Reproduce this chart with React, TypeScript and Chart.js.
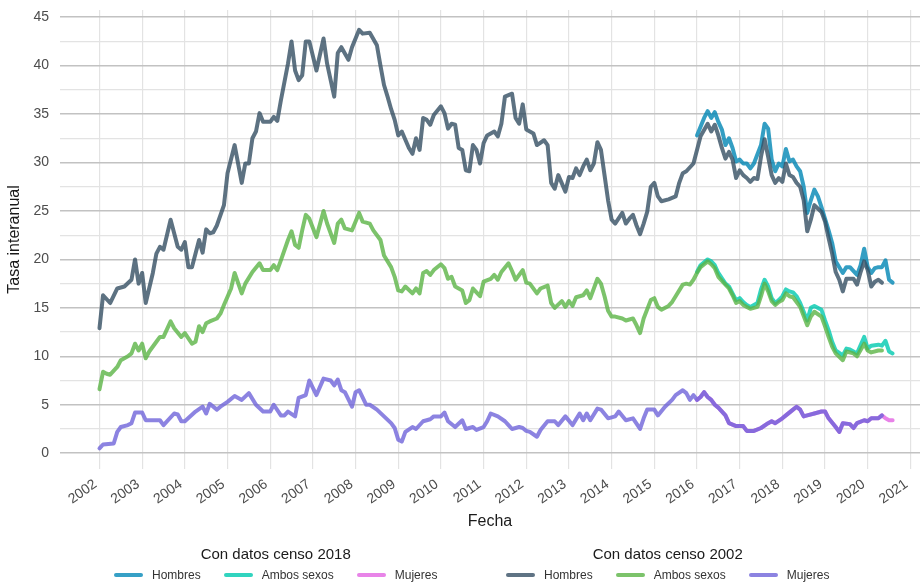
import React, { useEffect, useRef } from "react";
import { Chart, registerables } from "chart.js";

Chart.register(...registerables);

type Punto = [string, number];

// Eje X: años (etiquetas)
const anios = [2002, 2003, 2004, 2005, 2006, 2007, 2008, 2009, 2010, 2011, 2012, 2013, 2014, 2015, 2016, 2017, 2018, 2019, 2020, 2021];
// Eje Y: marcas con etiqueta y líneas menores
const yEtiquetas = [0, 5, 10, 15, 20, 25, 30, 35, 40, 45];
const yMenores = [2.5, 7.5, 12.5, 17.5, 22.5, 27.5, 32.5, 37.5, 42.5];

// ---- Con datos censo 2002 ----
const hombres2002: Punto[] = [
  ["2002-01", 12.9], ["2002-02", 16.3], ["2002-04", 15.5], ["2002-06", 17.0], ["2002-08", 17.2], ["2002-10", 17.9], ["2002-11", 20.0], ["2002-12", 17.5],
  ["2003-01", 18.6], ["2003-02", 15.5], ["2003-04", 18.6], ["2003-05", 20.6], ["2003-06", 21.3], ["2003-07", 21.0], ["2003-09", 24.1], ["2003-11", 21.3], ["2003-12", 21.0],
  ["2004-01", 21.8], ["2004-02", 19.2], ["2004-03", 19.2], ["2004-05", 22.0], ["2004-06", 20.7], ["2004-07", 23.1], ["2004-08", 22.7], ["2004-09", 22.8], ["2004-10", 23.5], ["2004-12", 25.6],
  ["2005-01", 28.9], ["2005-03", 31.8], ["2005-05", 27.9], ["2005-06", 29.9], ["2005-07", 29.9], ["2005-08", 32.5], ["2005-09", 33.2], ["2005-10", 35.1], ["2005-11", 34.2],
  ["2006-01", 34.2], ["2006-02", 34.7], ["2006-03", 34.3], ["2006-04", 36.4], ["2006-06", 40.2], ["2006-07", 42.5], ["2006-08", 39.5], ["2006-09", 38.5], ["2006-10", 39.0], ["2006-11", 42.5], ["2006-12", 42.5],
  ["2007-02", 39.5], ["2007-04", 42.8], ["2007-05", 40.2], ["2007-07", 36.8], ["2007-08", 41.3], ["2007-09", 41.9], ["2007-11", 40.6], ["2007-12", 41.9],
  ["2008-02", 43.7], ["2008-03", 43.3], ["2008-05", 43.4], ["2008-07", 42.1], ["2008-08", 40.0], ["2008-09", 38.0], ["2008-10", 36.8], ["2008-11", 35.5], ["2008-12", 34.4],
  ["2009-01", 32.8], ["2009-02", 33.2], ["2009-04", 31.5], ["2009-05", 30.9], ["2009-06", 32.5], ["2009-07", 31.3], ["2009-08", 34.6], ["2009-09", 34.4], ["2009-10", 33.9], ["2009-11", 34.9],
  ["2010-01", 35.8], ["2010-02", 35.1], ["2010-03", 33.5], ["2010-04", 34.0], ["2010-05", 33.9], ["2010-06", 31.5], ["2010-07", 31.3], ["2010-08", 29.2], ["2010-09", 29.1], ["2010-10", 31.8], ["2010-11", 31.3], ["2010-12", 29.9],
  ["2011-01", 32.0], ["2011-02", 32.8], ["2011-04", 33.2], ["2011-05", 32.7], ["2011-06", 34.0], ["2011-07", 36.8], ["2011-09", 37.1], ["2011-10", 34.6], ["2011-11", 34.0], ["2011-12", 36.0],
  ["2012-01", 33.4], ["2012-02", 33.2], ["2012-03", 33.0], ["2012-04", 31.8], ["2012-06", 32.3], ["2012-07", 31.8], ["2012-08", 27.9], ["2012-09", 27.3], ["2012-10", 28.7], ["2012-12", 27.0],
  ["2013-01", 28.5], ["2013-02", 28.4], ["2013-03", 29.4], ["2013-04", 28.7], ["2013-05", 29.6], ["2013-06", 30.3], ["2013-07", 29.2], ["2013-08", 29.9], ["2013-09", 32.1], ["2013-10", 31.3], ["2013-11", 28.7], ["2013-12", 26.1],
  ["2014-01", 24.1], ["2014-02", 23.7], ["2014-04", 24.8], ["2014-05", 23.7], ["2014-06", 24.2], ["2014-07", 24.6], ["2014-08", 23.5], ["2014-09", 22.6], ["2014-10", 23.7], ["2014-11", 24.9], ["2014-12", 27.5],
  ["2015-01", 27.9], ["2015-02", 26.5], ["2015-03", 26.0], ["2015-05", 26.2], ["2015-07", 26.5], ["2015-08", 27.9], ["2015-09", 28.9], ["2015-10", 29.1], ["2015-12", 29.9],
  ["2016-01", 31.3], ["2016-02", 32.7], ["2016-04", 34.0], ["2016-05", 33.2], ["2016-06", 33.9], ["2016-07", 32.8], ["2016-08", 31.5], ["2016-09", 30.4], ["2016-10", 31.1], ["2016-11", 30.3], ["2016-12", 28.4],
  ["2017-01", 29.2], ["2017-02", 28.7], ["2017-03", 28.4], ["2017-04", 28.0], ["2017-05", 28.4], ["2017-06", 28.3], ["2017-07", 30.6], ["2017-08", 32.4], ["2017-09", 30.6], ["2017-10", 28.7], ["2017-11", 27.9], ["2017-12", 28.4],
  ["2018-01", 28.0], ["2018-02", 29.9], ["2018-03", 28.7], ["2018-04", 28.5], ["2018-05", 27.9], ["2018-06", 27.5], ["2018-07", 26.1], ["2018-08", 22.9], ["2018-09", 24.1], ["2018-10", 25.6], ["2018-12", 24.9],
  ["2019-01", 23.9], ["2019-02", 22.2], ["2019-03", 20.6], ["2019-04", 18.7], ["2019-05", 17.9], ["2019-06", 16.7], ["2019-07", 18.0], ["2019-09", 18.0], ["2019-10", 17.4], ["2019-11", 18.7], ["2019-12", 19.8],
  ["2020-01", 18.9], ["2020-02", 17.2], ["2020-03", 17.7], ["2020-04", 17.9], ["2020-05", 17.6],
];

const ambos2002: Punto[] = [
  ["2002-01", 6.6], ["2002-02", 8.4], ["2002-03", 8.2], ["2002-04", 8.1], ["2002-06", 8.9], ["2002-07", 9.6], ["2002-09", 10.0], ["2002-10", 10.3], ["2002-11", 11.3], ["2002-12", 10.6],
  ["2003-01", 11.3], ["2003-02", 9.8], ["2003-03", 10.5], ["2003-05", 11.5], ["2003-06", 12.0], ["2003-07", 12.0], ["2003-09", 13.6], ["2003-10", 12.9], ["2003-12", 12.0],
  ["2004-01", 12.4], ["2004-03", 11.3], ["2004-04", 11.5], ["2004-05", 13.1], ["2004-06", 12.5], ["2004-07", 13.4], ["2004-08", 13.6], ["2004-10", 13.9], ["2004-11", 14.4], ["2004-12", 15.3],
  ["2005-02", 17.0], ["2005-03", 18.6], ["2005-05", 16.5], ["2005-06", 17.5], ["2005-08", 18.7], ["2005-10", 19.6], ["2005-11", 18.9],
  ["2006-01", 18.9], ["2006-02", 19.4], ["2006-03", 18.9], ["2006-04", 19.9], ["2006-06", 22.0], ["2006-07", 22.9], ["2006-08", 21.5], ["2006-09", 21.2], ["2006-10", 23.0], ["2006-11", 24.6], ["2006-12", 24.2],
  ["2007-02", 22.3], ["2007-04", 25.0], ["2007-05", 23.7], ["2007-07", 21.7], ["2007-08", 23.7], ["2007-09", 24.1], ["2007-10", 23.2], ["2007-12", 23.0],
  ["2008-02", 24.8], ["2008-03", 23.9], ["2008-05", 23.7], ["2008-06", 23.0], ["2008-08", 22.0], ["2008-09", 20.4], ["2008-11", 19.2], ["2008-12", 18.2],
  ["2009-01", 16.8], ["2009-02", 16.7], ["2009-03", 17.2], ["2009-05", 16.5], ["2009-06", 17.0], ["2009-07", 16.5], ["2009-08", 18.6], ["2009-09", 18.8], ["2009-10", 18.4], ["2009-11", 18.9],
  ["2010-01", 19.5], ["2010-02", 19.1], ["2010-03", 18.0], ["2010-04", 18.2], ["2010-05", 17.2], ["2010-07", 16.8], ["2010-08", 15.5], ["2010-09", 15.8], ["2010-10", 17.0], ["2010-11", 16.6], ["2010-12", 16.2],
  ["2011-01", 17.7], ["2011-03", 18.0], ["2011-04", 18.4], ["2011-05", 17.9], ["2011-06", 18.7], ["2011-08", 19.6], ["2011-09", 18.8], ["2011-10", 17.9], ["2011-12", 18.9],
  ["2012-01", 17.6], ["2012-02", 17.5], ["2012-04", 16.5], ["2012-05", 17.0], ["2012-07", 17.3], ["2012-08", 15.5], ["2012-09", 15.0], ["2012-11", 15.7], ["2012-12", 15.1],
  ["2013-01", 15.7], ["2013-02", 15.2], ["2013-03", 16.1], ["2013-05", 16.3], ["2013-06", 16.8], ["2013-07", 16.0], ["2013-09", 18.0], ["2013-10", 17.5], ["2013-11", 16.2], ["2013-12", 14.7],
  ["2014-01", 14.1], ["2014-02", 14.1], ["2014-04", 13.9], ["2014-05", 13.7], ["2014-07", 13.9], ["2014-08", 13.2], ["2014-09", 12.4], ["2014-10", 13.9], ["2014-12", 15.8],
  ["2015-01", 16.0], ["2015-02", 15.1], ["2015-03", 14.8], ["2015-05", 15.2], ["2015-06", 15.6], ["2015-07", 16.2], ["2015-09", 17.4], ["2015-10", 17.5], ["2015-11", 17.4], ["2015-12", 17.9],
  ["2016-01", 18.6], ["2016-02", 19.2], ["2016-04", 19.8], ["2016-05", 19.5], ["2016-06", 19.1], ["2016-07", 18.2], ["2016-09", 17.4], ["2016-10", 17.0], ["2016-11", 16.3], ["2016-12", 15.5],
  ["2017-01", 15.7], ["2017-02", 15.3], ["2017-03", 15.1], ["2017-04", 14.9], ["2017-06", 15.1], ["2017-07", 16.2], ["2017-08", 17.5], ["2017-09", 16.7], ["2017-10", 15.7], ["2017-11", 15.3], ["2017-12", 15.6],
  ["2018-01", 15.8], ["2018-02", 16.5], ["2018-03", 16.2], ["2018-04", 16.1], ["2018-05", 15.6], ["2018-06", 15.1], ["2018-08", 13.2], ["2018-09", 14.1], ["2018-10", 14.6], ["2018-12", 14.1],
  ["2019-01", 13.1], ["2019-02", 12.0], ["2019-03", 11.0], ["2019-04", 10.3], ["2019-06", 9.6], ["2019-07", 10.5], ["2019-09", 10.3], ["2019-10", 10.0], ["2019-12", 11.3],
  ["2020-01", 10.6], ["2020-02", 10.4], ["2020-04", 10.6], ["2020-05", 10.6],
];

const mujeres2002: Punto[] = [
  ["2002-01", 0.5], ["2002-02", 0.9], ["2002-05", 1.0], ["2002-06", 2.2], ["2002-07", 2.7], ["2002-09", 2.9], ["2002-10", 3.1], ["2002-11", 4.2],
  ["2003-01", 4.2], ["2003-02", 3.4], ["2003-06", 3.4], ["2003-07", 2.9], ["2003-10", 4.1], ["2003-11", 4.0], ["2003-12", 3.3],
  ["2004-01", 3.3], ["2004-04", 4.3], ["2004-06", 4.8], ["2004-07", 4.1], ["2004-08", 5.1], ["2004-10", 4.5], ["2004-11", 4.8],
  ["2005-01", 5.3], ["2005-03", 5.9], ["2005-05", 5.5], ["2005-07", 6.2], ["2005-09", 5.0], ["2005-11", 4.3],
  ["2006-01", 4.3], ["2006-02", 5.0], ["2006-04", 3.9], ["2006-05", 3.9], ["2006-06", 4.3], ["2006-08", 3.8], ["2006-09", 5.7], ["2006-11", 6.0], ["2006-12", 7.5],
  ["2007-02", 6.0], ["2007-04", 7.7], ["2007-06", 7.5], ["2007-07", 7.0], ["2007-08", 7.6], ["2007-09", 6.5], ["2007-10", 6.3], ["2007-12", 4.8],
  ["2008-01", 6.3], ["2008-02", 6.5], ["2008-04", 5.0], ["2008-05", 5.0], ["2008-07", 4.5], ["2008-09", 3.8], ["2008-11", 3.1], ["2008-12", 2.6],
  ["2009-01", 1.4], ["2009-02", 1.2], ["2009-03", 2.2], ["2009-05", 2.7], ["2009-06", 2.5], ["2009-08", 3.3], ["2009-10", 3.5], ["2009-11", 3.8],
  ["2010-01", 3.8], ["2010-02", 4.2], ["2010-03", 3.3], ["2010-05", 2.7], ["2010-07", 3.4], ["2010-08", 2.5], ["2010-10", 2.7], ["2010-11", 2.4],
  ["2011-01", 2.7], ["2011-02", 3.3], ["2011-03", 4.1], ["2011-05", 3.8], ["2011-07", 3.3], ["2011-08", 2.9], ["2011-09", 2.5], ["2011-11", 2.7], ["2011-12", 2.6],
  ["2012-01", 2.3], ["2012-02", 2.2], ["2012-04", 1.7], ["2012-05", 2.4], ["2012-07", 3.3], ["2012-09", 3.3], ["2012-10", 2.9], ["2012-12", 3.8],
  ["2013-02", 2.9], ["2013-04", 4.1], ["2013-05", 3.4], ["2013-06", 4.1], ["2013-07", 3.4], ["2013-09", 4.6], ["2013-10", 4.5], ["2013-12", 3.6],
  ["2014-02", 3.8], ["2014-03", 4.3], ["2014-05", 3.4], ["2014-07", 3.6], ["2014-09", 2.5], ["2014-10", 3.6], ["2014-11", 4.5],
  ["2015-01", 4.5], ["2015-02", 3.9], ["2015-04", 4.8], ["2015-06", 5.5], ["2015-07", 6.0], ["2015-09", 6.5], ["2015-10", 6.2], ["2015-11", 5.5], ["2015-12", 6.0],
  ["2016-01", 5.5], ["2016-02", 5.8], ["2016-03", 6.3], ["2016-04", 5.8], ["2016-05", 5.5], ["2016-06", 5.0], ["2016-07", 4.7], ["2016-09", 3.9], ["2016-10", 3.1], ["2016-12", 2.8],
  ["2017-02", 2.8], ["2017-03", 2.3], ["2017-05", 2.3], ["2017-07", 2.6], ["2017-09", 3.1], ["2017-10", 3.3], ["2017-11", 3.1],
  ["2018-01", 3.6], ["2018-02", 3.9], ["2018-04", 4.5], ["2018-05", 4.8], ["2018-06", 4.5], ["2018-07", 3.8], ["2018-08", 3.9], ["2018-10", 4.1], ["2018-12", 4.3],
  ["2019-01", 4.3], ["2019-02", 3.6], ["2019-04", 2.7], ["2019-05", 2.2], ["2019-06", 3.1], ["2019-08", 3.0], ["2019-09", 2.6], ["2019-10", 3.1], ["2019-12", 3.4],
  ["2020-01", 3.3], ["2020-02", 3.6], ["2020-04", 3.6], ["2020-05", 3.9],
];

// ---- Con datos censo 2018 ----
const hombres2018: Punto[] = [
  ["2016-01", 32.8], ["2016-02", 33.7], ["2016-03", 34.6], ["2016-04", 35.3], ["2016-05", 34.6], ["2016-06", 35.2], ["2016-07", 34.2], ["2016-08", 33.4], ["2016-09", 31.8], ["2016-10", 32.5], ["2016-11", 31.5], ["2016-12", 30.1],
  ["2017-01", 30.3], ["2017-02", 29.9], ["2017-03", 29.9], ["2017-04", 29.4], ["2017-05", 29.9], ["2017-07", 31.8], ["2017-08", 34.0], ["2017-09", 33.5], ["2017-10", 30.3], ["2017-11", 29.1], ["2017-12", 29.9],
  ["2018-01", 29.6], ["2018-02", 31.4], ["2018-03", 30.1], ["2018-04", 30.3], ["2018-05", 29.6], ["2018-06", 29.1], ["2018-07", 27.5], ["2018-08", 24.8], ["2018-09", 26.1], ["2018-10", 27.2], ["2018-11", 26.5], ["2018-12", 25.4],
  ["2019-01", 24.2], ["2019-02", 23.0], ["2019-03", 21.7], ["2019-04", 19.8], ["2019-06", 18.6], ["2019-07", 19.2], ["2019-08", 19.2], ["2019-10", 18.4], ["2019-11", 19.4], ["2019-12", 21.1],
  ["2020-01", 19.2], ["2020-02", 18.6], ["2020-03", 19.1], ["2020-04", 19.2], ["2020-05", 19.2], ["2020-06", 19.9], ["2020-07", 17.9], ["2020-08", 17.6],
];

const ambos2018: Punto[] = [
  ["2016-01", 18.7], ["2016-02", 19.4], ["2016-04", 20.0], ["2016-05", 19.8], ["2016-06", 19.4], ["2016-07", 18.6], ["2016-09", 17.5], ["2016-10", 17.2], ["2016-11", 16.5], ["2016-12", 15.8],
  ["2017-01", 16.0], ["2017-02", 15.6], ["2017-03", 15.3], ["2017-04", 15.1], ["2017-06", 15.5], ["2017-07", 16.9], ["2017-08", 17.9], ["2017-09", 17.2], ["2017-10", 16.0], ["2017-11", 15.5], ["2017-12", 15.8],
  ["2018-01", 16.2], ["2018-02", 16.9], ["2018-03", 16.7], ["2018-04", 16.6], ["2018-05", 16.2], ["2018-06", 15.5], ["2018-08", 13.7], ["2018-09", 15.0], ["2018-10", 15.2], ["2018-12", 14.8],
  ["2019-01", 13.7], ["2019-02", 12.7], ["2019-03", 11.5], ["2019-04", 10.6], ["2019-06", 10.1], ["2019-07", 10.8], ["2019-08", 10.7], ["2019-10", 10.3], ["2019-12", 12.0],
  ["2020-01", 10.8], ["2020-02", 11.1], ["2020-04", 11.2], ["2020-05", 11.1], ["2020-06", 11.6], ["2020-07", 10.5], ["2020-08", 10.3],
];

const mujeres2018: Punto[] = [
  ["2016-01", 5.5], ["2016-02", 5.8], ["2016-03", 6.3], ["2016-04", 5.8], ["2016-05", 5.5], ["2016-06", 5.0], ["2016-07", 4.7], ["2016-09", 3.9], ["2016-10", 3.1], ["2016-12", 2.8],
  ["2017-02", 2.8], ["2017-03", 2.3], ["2017-05", 2.3], ["2017-07", 2.6], ["2017-09", 3.1], ["2017-10", 3.3], ["2017-11", 3.1],
  ["2018-01", 3.6], ["2018-02", 3.9], ["2018-04", 4.5], ["2018-05", 4.8], ["2018-06", 4.5], ["2018-07", 3.8], ["2018-08", 3.9], ["2018-10", 4.1], ["2018-12", 4.3],
  ["2019-01", 4.3], ["2019-02", 3.6], ["2019-04", 2.7], ["2019-05", 2.2], ["2019-06", 3.1], ["2019-08", 3.0], ["2019-09", 2.6], ["2019-10", 3.1], ["2019-12", 3.4],
  ["2020-01", 3.3], ["2020-02", 3.6], ["2020-04", 3.6], ["2020-05", 3.9], ["2020-06", 3.6], ["2020-07", 3.4], ["2020-08", 3.4],
];

const FONT = "'Liberation Sans', Arial, Helvetica, sans-serif";

const colores = {
  hombres2018: { linea: "rgba(0,134,180,0.8)", clave: "#36a0c6" },
  ambos2018: { linea: "rgba(0,201,175,0.8)", clave: "#31d4bf" },
  mujeres2018: { linea: "rgba(226,99,226,0.8)", clave: "#e884e8" },
  hombres2002: { linea: "rgba(53,79,99,0.8)", clave: "#5f7384" },
  ambos2002: { linea: "rgba(91,180,70,0.8)", clave: "#7cc36b" },
  mujeres2002: { linea: "rgba(111,100,218,0.8)", clave: "#8c83e1" },
};

const fecha = (s: string) => {
  const [a, m] = s.split("-").map(Number);
  return a + (m - 1) / 12;
};
const aXY = (serie: Punto[]) => serie.map(([f, v]) => ({ x: fecha(f), y: v }));

const grupos = [
  {
    titulo: "Con datos censo 2018",
    left: 114,
    items: [
      { nombre: "Hombres", color: colores.hombres2018.clave },
      { nombre: "Ambos sexos", color: colores.ambos2018.clave },
      { nombre: "Mujeres", color: colores.mujeres2018.clave },
    ],
  },
  {
    titulo: "Con datos censo 2002",
    left: 506,
    items: [
      { nombre: "Hombres", color: colores.hombres2002.clave },
      { nombre: "Ambos sexos", color: colores.ambos2002.clave },
      { nombre: "Mujeres", color: colores.mujeres2002.clave },
    ],
  },
];

export default function App() {
  const ref = useRef<HTMLCanvasElement | null>(null);

  useEffect(() => {
    document.body.style.margin = "0";
    if (!ref.current) return;
    const linea = (label: string, serie: Punto[], color: string, order: number) => ({
      label,
      data: aXY(serie),
      borderColor: color,
      backgroundColor: color,
      borderWidth: 4,
      pointRadius: 0,
      tension: 0,
      fill: false,
      borderJoinStyle: "round" as const,
      borderCapStyle: "round" as const,
      order,
    });

    const chart = new Chart(ref.current, {
      type: "line",
      data: {
        datasets: [
          linea("Hombres", hombres2002, colores.hombres2002.linea, 0),
          linea("Ambos sexos", ambos2002, colores.ambos2002.linea, 0),
          linea("Mujeres", mujeres2002, colores.mujeres2002.linea, 0),
          linea("Hombres", hombres2018, colores.hombres2018.linea, 1),
          linea("Ambos sexos", ambos2018, colores.ambos2018.linea, 1),
          linea("Mujeres", mujeres2018, colores.mujeres2018.linea, 1),
        ],
      },
      options: {
        animation: false,
        responsive: false,
        maintainAspectRatio: false,
        layout: { padding: { top: 10, right: 0, bottom: 48, left: 0 } },
        plugins: { legend: { display: false }, tooltip: { enabled: false } },
        scales: {
          x: {
            type: "linear",
            min: 2001.075,
            max: 2021.225,
            afterBuildTicks: (s: any) => {
              s.ticks = anios.map((v) => ({ value: v }));
            },
            afterFit: (s: any) => {
              s.height = 65;
              s.paddingLeft = 0;
              s.paddingRight = 0;
            },
            ticks: {
              autoSkip: false,
              minRotation: 35,
              maxRotation: 35,
              padding: 7,
              labelOffset: -4,
              color: "#4d4d4d",
              font: { family: FONT, size: 14 },
              callback: (v: any) => String(v),
            },
            grid: { color: "#e3e3e3", lineWidth: 1.2, drawTicks: false },
            border: { display: false },
            title: {
              display: true,
              text: "Fecha",
              color: "#1a1a1a",
              font: { family: FONT, size: 16 },
              padding: { top: 0, bottom: 3 },
            },
          },
          y: {
            type: "linear",
            min: -1.63,
            max: 45.74,
            afterBuildTicks: (s: any) => {
              s.ticks = [...yEtiquetas, ...yMenores].sort((a, b) => a - b).map((v) => ({ value: v }));
            },
            afterFit: (s: any) => {
              s.width = 60;
              s.paddingTop = 0;
              s.paddingBottom = 0;
            },
            ticks: {
              padding: 11,
              color: "#4d4d4d",
              font: { family: FONT, size: 14 },
              callback: (v: any) => (yEtiquetas.includes(Number(v)) ? String(v) : ""),
            },
            grid: {
              drawTicks: false,
              color: (c: any) => (yEtiquetas.includes(c.tick?.value) ? "#c2c2c2" : "#e3e3e3"),
              lineWidth: (c: any) => (yEtiquetas.includes(c.tick?.value) ? 1.5 : 1.2),
            },
            border: { display: false },
            title: {
              display: true,
              text: "Tasa interanual",
              color: "#1a1a1a",
              font: { family: FONT, size: 16 },
              padding: { top: 5, bottom: 0 },
            },
          },
        },
      },
    } as any);
    return () => chart.destroy();
  }, []);

  return (
    <div style={{ position: "relative", width: 920, height: 582, background: "#fff", fontFamily: FONT }}>
      <canvas ref={ref} width={920} height={582} style={{ display: "block" }} />
      {grupos.map((g) => (
        <div
          key={g.titulo}
          style={{
            position: "absolute",
            left: g.left,
            top: 545,
            display: "flex",
            flexDirection: "column",
            alignItems: "center",
          }}
        >
          <div style={{ fontSize: 15, lineHeight: "18px", color: "#1a1a1a", whiteSpace: "nowrap" }}>{g.titulo}</div>
          <div style={{ display: "flex", alignItems: "center", marginTop: 5, whiteSpace: "nowrap" }}>
            {g.items.map((it, i) => (
              <div key={it.nombre} style={{ display: "flex", alignItems: "center", marginLeft: i === 0 ? 0 : 23 }}>
                <div style={{ width: 29, height: 4, borderRadius: 2, background: it.color }} />
                <span style={{ marginLeft: 9, fontSize: 12, lineHeight: "14px", color: "#333" }}>{it.nombre}</span>
              </div>
            ))}
          </div>
        </div>
      ))}
    </div>
  );
}
